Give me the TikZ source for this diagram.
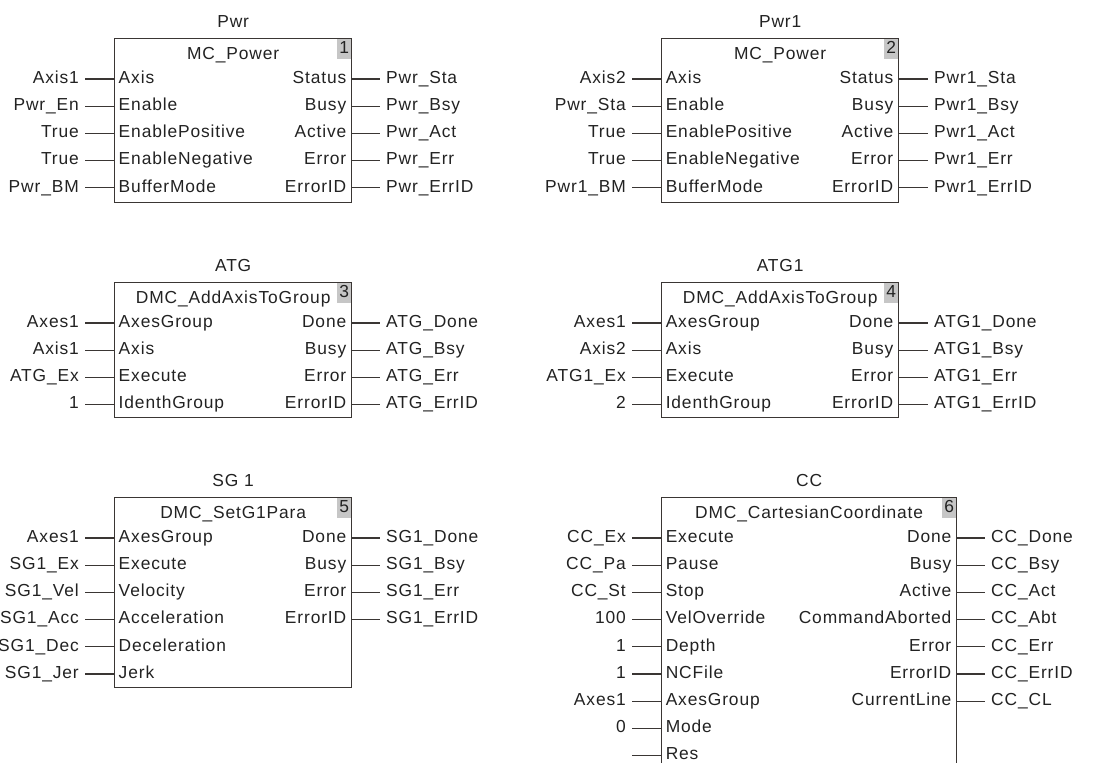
\documentclass[tikz,border=0pt]{standalone}
\usepackage{fontspec}
\setmainfont[LetterSpace=5]{Liberation Sans}
\usetikzlibrary{positioning}

\definecolor{fbline}{HTML}{3A3634}
\definecolor{fbtext}{HTML}{222222}
\definecolor{fbnum}{HTML}{C6C6C6}

\begin{document}
\begin{tikzpicture}[
  x=0.02cm, y=-0.02cm,
  font=\fontsize{9.9}{11.8}\selectfont,
  every node/.style={text=fbtext, text height=7pt, text depth=2pt},
  fb/.style={draw=fbline, line width=0.8pt, anchor=north west, inner sep=0pt},
  fbnumber/.style={fill=fbnum, anchor=north east, minimum width=0.28cm,
    minimum height=0.4cm, inner sep=0pt, xshift=-0.4pt, yshift=-0.4pt},
  fbname/.style={inner sep=2pt},
  pinin/.style={anchor=west, inner sep=2.5pt},
  pinout/.style={anchor=east, inner sep=2.5pt},
  varin/.style={anchor=east},
  varout/.style={anchor=west},
  wire/.style={draw=fbline, line width=0.6pt}
]
  \clip (0,0) rectangle (1102,763);

  % --- Pwr ---
  \node[fb, minimum width=4.74cm, minimum height=3.28cm] (pwr) at (114,38) {};
  \node[fbnumber] (pwr-no) at (pwr.north east) {1};
  \node[fbname, below=3pt of pwr.north] (pwr-type) {MC\_Power};
  \node[fbname, above=1.5pt of pwr] (pwr-inst) {Pwr};
  \foreach \pin/\var [count=\i] in {Axis/Axis1, Enable/Pwr\_En, EnablePositive/True,
      EnableNegative/True, BufferMode/Pwr\_BM} {
    \node[pinin] (pwr-i\i) at (114, {79+27.2*(\i-1)}) {\pin};
    \node[varin] (pwr-a\i) at (85, {79+27.2*(\i-1)}) {\var};
    \draw[wire] (pwr-a\i.east) -- (pwr-i\i.west);
  }
  \foreach \pin/\var [count=\i] in {Status/Pwr\_Sta, Busy/Pwr\_Bsy, Active/Pwr\_Act,
      Error/Pwr\_Err, ErrorID/Pwr\_ErrID} {
    \node[pinout] (pwr-o\i) at (351, {79+27.2*(\i-1)}) {\pin};
    \node[varout] (pwr-q\i) at (380, {79+27.2*(\i-1)}) {\var};
    \draw[wire] (pwr-o\i.east) -- (pwr-q\i.west);
  }

  % --- Pwr1 ---
  \node[fb, minimum width=4.74cm, minimum height=3.28cm] (pwr1) at (661,38) {};
  \node[fbnumber] (pwr1-no) at (pwr1.north east) {2};
  \node[fbname, below=3pt of pwr1.north] (pwr1-type) {MC\_Power};
  \node[fbname, above=1.5pt of pwr1] (pwr1-inst) {Pwr1};
  \foreach \pin/\var [count=\i] in {Axis/Axis2, Enable/Pwr\_Sta, EnablePositive/True,
      EnableNegative/True, BufferMode/Pwr1\_BM} {
    \node[pinin] (pwr1-i\i) at (661, {79+27.2*(\i-1)}) {\pin};
    \node[varin] (pwr1-a\i) at (632, {79+27.2*(\i-1)}) {\var};
    \draw[wire] (pwr1-a\i.east) -- (pwr1-i\i.west);
  }
  \foreach \pin/\var [count=\i] in {Status/Pwr1\_Sta, Busy/Pwr1\_Bsy, Active/Pwr1\_Act,
      Error/Pwr1\_Err, ErrorID/Pwr1\_ErrID} {
    \node[pinout] (pwr1-o\i) at (898, {79+27.2*(\i-1)}) {\pin};
    \node[varout] (pwr1-q\i) at (928, {79+27.2*(\i-1)}) {\var};
    \draw[wire] (pwr1-o\i.east) -- (pwr1-q\i.west);
  }

  % --- ATG ---
  \node[fb, minimum width=4.74cm, minimum height=2.70cm] (atg) at (114,282) {};
  \node[fbnumber] (atg-no) at (atg.north east) {3};
  \node[fbname, below=3pt of atg.north] (atg-type) {DMC\_AddAxisToGroup};
  \node[fbname, above=1.5pt of atg] (atg-inst) {ATG};
  \foreach \pin/\var [count=\i] in {AxesGroup/Axes1, Axis/Axis1, Execute/ATG\_Ex,
      IdenthGroup/1} {
    \node[pinin] (atg-i\i) at (114, {323+27.2*(\i-1)}) {\pin};
    \node[varin] (atg-a\i) at (85, {323+27.2*(\i-1)}) {\var};
    \draw[wire] (atg-a\i.east) -- (atg-i\i.west);
  }
  \foreach \pin/\var [count=\i] in {Done/ATG\_Done, Busy/ATG\_Bsy, Error/ATG\_Err,
      ErrorID/ATG\_ErrID} {
    \node[pinout] (atg-o\i) at (351, {323+27.2*(\i-1)}) {\pin};
    \node[varout] (atg-q\i) at (380, {323+27.2*(\i-1)}) {\var};
    \draw[wire] (atg-o\i.east) -- (atg-q\i.west);
  }

  % --- ATG1 ---
  \node[fb, minimum width=4.74cm, minimum height=2.70cm] (atg1) at (661,282) {};
  \node[fbnumber] (atg1-no) at (atg1.north east) {4};
  \node[fbname, below=3pt of atg1.north] (atg1-type) {DMC\_AddAxisToGroup};
  \node[fbname, above=1.5pt of atg1] (atg1-inst) {ATG1};
  \foreach \pin/\var [count=\i] in {AxesGroup/Axes1, Axis/Axis2, Execute/ATG1\_Ex,
      IdenthGroup/2} {
    \node[pinin] (atg1-i\i) at (661, {323+27.2*(\i-1)}) {\pin};
    \node[varin] (atg1-a\i) at (632, {323+27.2*(\i-1)}) {\var};
    \draw[wire] (atg1-a\i.east) -- (atg1-i\i.west);
  }
  \foreach \pin/\var [count=\i] in {Done/ATG1\_Done, Busy/ATG1\_Bsy, Error/ATG1\_Err,
      ErrorID/ATG1\_ErrID} {
    \node[pinout] (atg1-o\i) at (898, {323+27.2*(\i-1)}) {\pin};
    \node[varout] (atg1-q\i) at (928, {323+27.2*(\i-1)}) {\var};
    \draw[wire] (atg1-o\i.east) -- (atg1-q\i.west);
  }

  % --- SG 1 ---
  \node[fb, minimum width=4.74cm, minimum height=3.80cm] (sg1) at (114,497) {};
  \node[fbnumber] (sg1-no) at (sg1.north east) {5};
  \node[fbname, below=3pt of sg1.north] (sg1-type) {DMC\_SetG1Para};
  \node[fbname, above=1.5pt of sg1] (sg1-inst) {SG 1};
  \foreach \pin/\var [count=\i] in {AxesGroup/Axes1, Execute/SG1\_Ex, Velocity/SG1\_Vel,
      Acceleration/SG1\_Acc, Deceleration/SG1\_Dec, Jerk/SG1\_Jer} {
    \node[pinin] (sg1-i\i) at (114, {538+27.2*(\i-1)}) {\pin};
    \node[varin] (sg1-a\i) at (85, {538+27.2*(\i-1)}) {\var};
    \draw[wire] (sg1-a\i.east) -- (sg1-i\i.west);
  }
  \foreach \pin/\var [count=\i] in {Done/SG1\_Done, Busy/SG1\_Bsy, Error/SG1\_Err,
      ErrorID/SG1\_ErrID} {
    \node[pinout] (sg1-o\i) at (351, {538+27.2*(\i-1)}) {\pin};
    \node[varout] (sg1-q\i) at (380, {538+27.2*(\i-1)}) {\var};
    \draw[wire] (sg1-o\i.east) -- (sg1-q\i.west);
  }

  % --- CC (runs on past the bottom edge) ---
  \node[fb, minimum width=5.90cm, minimum height=5.80cm] (cc) at (661,497) {};
  \node[fbnumber] (cc-no) at (cc.north east) {6};
  \node[fbname, below=3pt of cc.north] (cc-type) {DMC\_CartesianCoordinate};
  \node[fbname, above=1.5pt of cc] (cc-inst) {CC};
  \foreach \pin/\var [count=\i] in {Execute/CC\_Ex, Pause/CC\_Pa, Stop/CC\_St,
      VelOverride/100, Depth/1, NCFile/1, AxesGroup/Axes1, Mode/0, Res/{}} {
    \node[pinin] (cc-i\i) at (661, {538+27.2*(\i-1)}) {\pin};
    \node[varin] (cc-a\i) at (632, {538+27.2*(\i-1)}) {\var};
    \draw[wire] (cc-a\i.east) -- (cc-i\i.west);
  }
  \foreach \pin/\var [count=\i] in {Done/CC\_Done, Busy/CC\_Bsy, Active/CC\_Act,
      CommandAborted/CC\_Abt, Error/CC\_Err, ErrorID/CC\_ErrID, CurrentLine/CC\_CL} {
    \node[pinout] (cc-o\i) at (956, {538+27.2*(\i-1)}) {\pin};
    \node[varout] (cc-q\i) at (985, {538+27.2*(\i-1)}) {\var};
    \draw[wire] (cc-o\i.east) -- (cc-q\i.west);
  }
\end{tikzpicture}
\end{document}
